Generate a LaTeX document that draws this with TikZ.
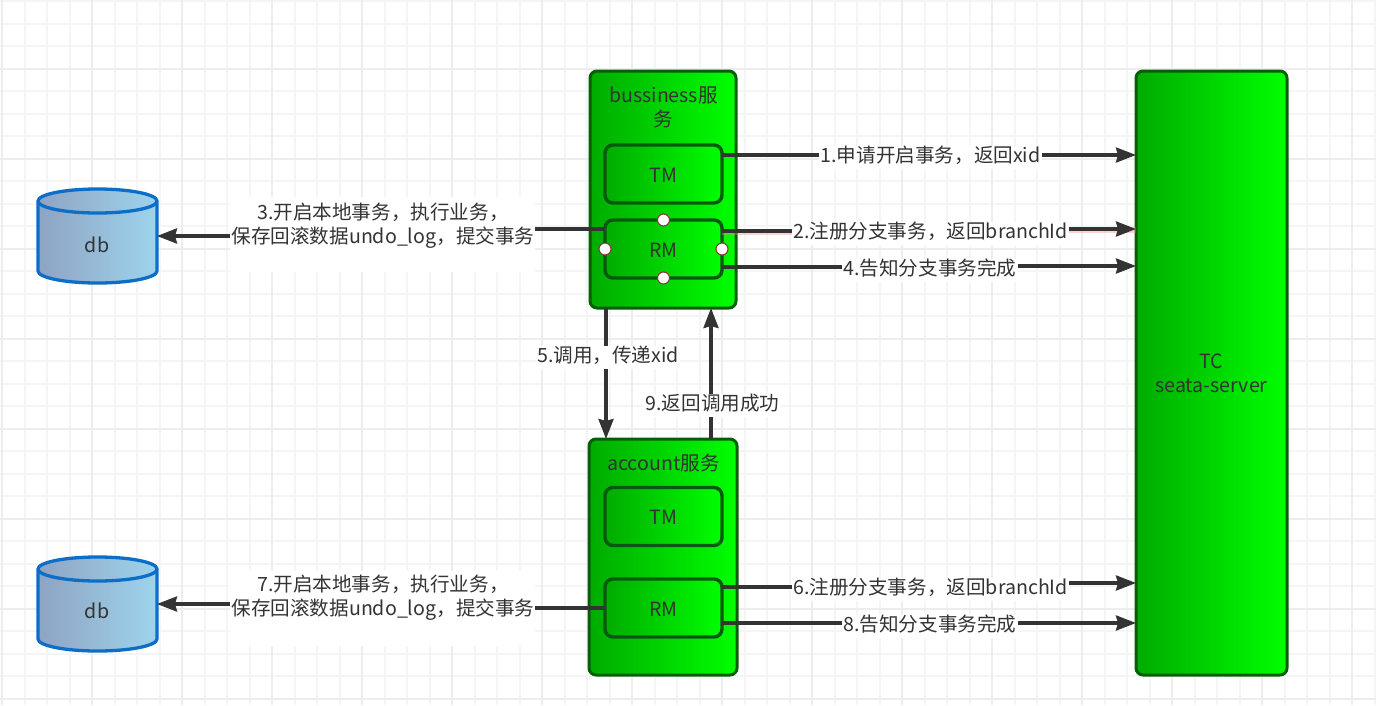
\documentclass[tikz,border=0pt]{standalone}
\usepackage{fontspec}
\setmainfont{Noto Sans CJK SC}
\usetikzlibrary{arrows.meta,calc}
\definecolor{ink}{HTML}{333333}
\definecolor{gridminor}{HTML}{F5F5F5}
\definecolor{gridmajor}{HTML}{EDEDED}
\definecolor{greenL}{HTML}{00AB00}
\definecolor{greenR}{HTML}{00FF00}
\definecolor{greenB}{HTML}{056005}
\definecolor{greenI}{HTML}{07590F}
\definecolor{dbL}{HTML}{8FA3C3}
\definecolor{dbR}{HTML}{9DD4EC}
\definecolor{dbB}{HTML}{0D6EC8}
\definecolor{portB}{HTML}{8A3A3A}
\tikzset{
  x=1pt,y=-1pt,
  txt/.style={font=\fontsize{19.6}{24}\selectfont,text=ink,align=center},
  outerbox/.style={draw=greenB,line width=3pt,rounded corners=7pt,left color=greenL,right color=greenR,outer sep=0pt,inner sep=0pt,txt},
  innerbox/.style={draw=greenI,line width=3.4pt,rounded corners=8pt,left color=greenL,right color=greenR,outer sep=0pt,inner sep=0pt,minimum width=117pt,minimum height=58pt,txt,text height=16pt,text depth=0pt},
  conn/.style={draw=ink,line width=3.3pt},
  arr/.style={conn,-{Stealth[length=20pt,width=15pt,inset=2pt]}},
  lab/.style={txt,fill=white,inner xsep=1.5pt,inner ysep=1pt,text height=16pt,text depth=5pt},
  mask/.style={fill=white,inner sep=0pt,outer sep=0pt,minimum width=305pt,minimum height=75pt},
  port/.style={circle,draw=portB,line width=1.1pt,fill=white,minimum size=12pt,inner sep=0pt},
  dbcyl/.style={inner sep=0pt,outer sep=0pt,minimum width=119pt,minimum height=94pt},
  dbline/.style={draw=dbB,line width=3.3pt,line join=round},
}
\newcommand{\dbshape}[1]{%
  \path[left color=dbL,right color=dbR,dbline]
    (#1.north west) ++(0,12)
    arc[start angle=180,end angle=0,x radius=59.5pt,y radius=12pt]
    -- ($(#1.south east)+(0pt,12pt)$)
    arc[start angle=0,end angle=-180,x radius=59.5pt,y radius=12pt]
    -- cycle;
  \draw[dbline] (#1.north west) ++(0,12)
    arc[start angle=-180,end angle=0,x radius=59.5pt,y radius=12pt];
}
\begin{document}
\begin{tikzpicture}
\useasboundingbox (0,0) rectangle (1376,705);
\fill[white] (0,0) rectangle (1376,705);
% grid
\foreach \k in {0,...,61}{\draw[gridminor,line width=2pt] ({2+22.5*\k},0) -- ({2+22.5*\k},705);}
\foreach \k in {0,...,31}{\draw[gridminor,line width=2pt] (0,{1+22.5*\k}) -- (1376,{1+22.5*\k});}
\foreach \k in {0,...,15}{\draw[gridmajor,line width=2pt] ({2+90*\k},0) -- ({2+90*\k},705);}
\foreach \k in {0,...,7}{\draw[gridmajor,line width=2pt] (0,{68.5+90*\k}) -- (1376,{68.5+90*\k});}

% boxes
\node[outerbox,minimum width=146pt,minimum height=237pt] (bus) at (663,189.5) {};
\node[outerbox,minimum width=148pt,minimum height=236pt] (acc) at (663,557) {};
\node[outerbox,minimum width=151pt,minimum height=604pt] (tc) at (1211.5,373) {TC\\seata-server};
\node[txt] (bustitle) at (663.5,107) {bussiness服\\务};
\node[txt] (acctitle) at (663.5,463) {account服务};
\node[innerbox] (tm1) at (663.5,174) {TM};
\node[innerbox] (rm1) at (663.5,249) {RM};
\node[innerbox] (tm2) at (663.5,516.5) {TM};
\node[innerbox] (rm2) at (663.5,608) {RM};

% databases
\node[dbcyl] (db1) at (97.5,236) {};
\node[dbcyl] (db2) at (97.5,604) {};
\dbshape{db1}
\dbshape{db2}
\node[txt] (db1t) at (97,245) {db};
\node[txt] (db2t) at (97,611) {db};

% faint highlight of connector 2
\draw[red!50!white,opacity=.35,line width=5.5pt] ([yshift=17pt]rm1.east) -- ++(208,0) -- ++(0,-2) -- ([yshift=143pt]tc.west);

% connectors
\draw[arr] ([yshift=19pt]tm1.east) -- ([yshift=218pt]tc.west);
\draw[arr] ([yshift=18pt]rm1.east) -- ++(208,0) -- ++(0,-2) -- ([yshift=144pt]tc.west);
\draw[arr] ([yshift=-18pt]rm1.east) -- ++(208,0) -- ++(0,-1) -- ([yshift=107pt]tc.west);
\draw[arr] ([yshift=21pt]rm2.east) -- ++(208,0) -- ++(0,-4) -- ([yshift=-210pt]tc.west);
\draw[arr] ([yshift=-15pt]rm2.east) -- ([yshift=-250pt]tc.west);
\draw[arr] ([yshift=20pt]rm1.west) -- ++(-223,0) -- ++(0,7) -- (db1.east);
\draw[arr] (rm2.west) -- ++(-223,0) -- ++(0,-4) -- (db2.east);
\draw[arr] ([xshift=-57pt]bus.south) -- ([xshift=-57pt]acc.north);
\draw[arr] ([xshift=48pt]acc.north) -- ([xshift=48pt]bus.south);

% ports
\node[port] (p1) at (rm1.north) {};
\node[port] (p2) at (rm1.south) {};
\node[port] (p3) at (rm1.west) {};
\node[port] (p4) at (rm1.east) {};

% labels
\node[mask] (m3) at (382.5,234) {};
\node[mask] (m7) at (382.5,608) {};
\node[txt] (l3) at (383,226) {3.开启本地事务，执行业务，\\保存回滚数据undo\_log，提交事务};
\node[txt] (l7) at (383,598) {7.开启本地事务，执行业务，\\保存回滚数据undo\_log，提交事务};
\node[lab] (l1) at (930.5,157) {1.申请开启事务，返回xid};
\node[lab] (l2) at (930.5,233) {2.注册分支事务，返回branchId};
\node[lab] (l4) at (930,270) {4.告知分支事务完成};
\node[lab] (l6) at (930.5,589) {6.注册分支事务，返回branchId};
\node[lab] (l8) at (930,626) {8.告知分支事务完成};
\node[lab] (l5) at (608,357) {5.调用，传递xid};
\node[lab] (l9) at (712.5,405) {9.返回调用成功};
\end{tikzpicture}
\end{document}
